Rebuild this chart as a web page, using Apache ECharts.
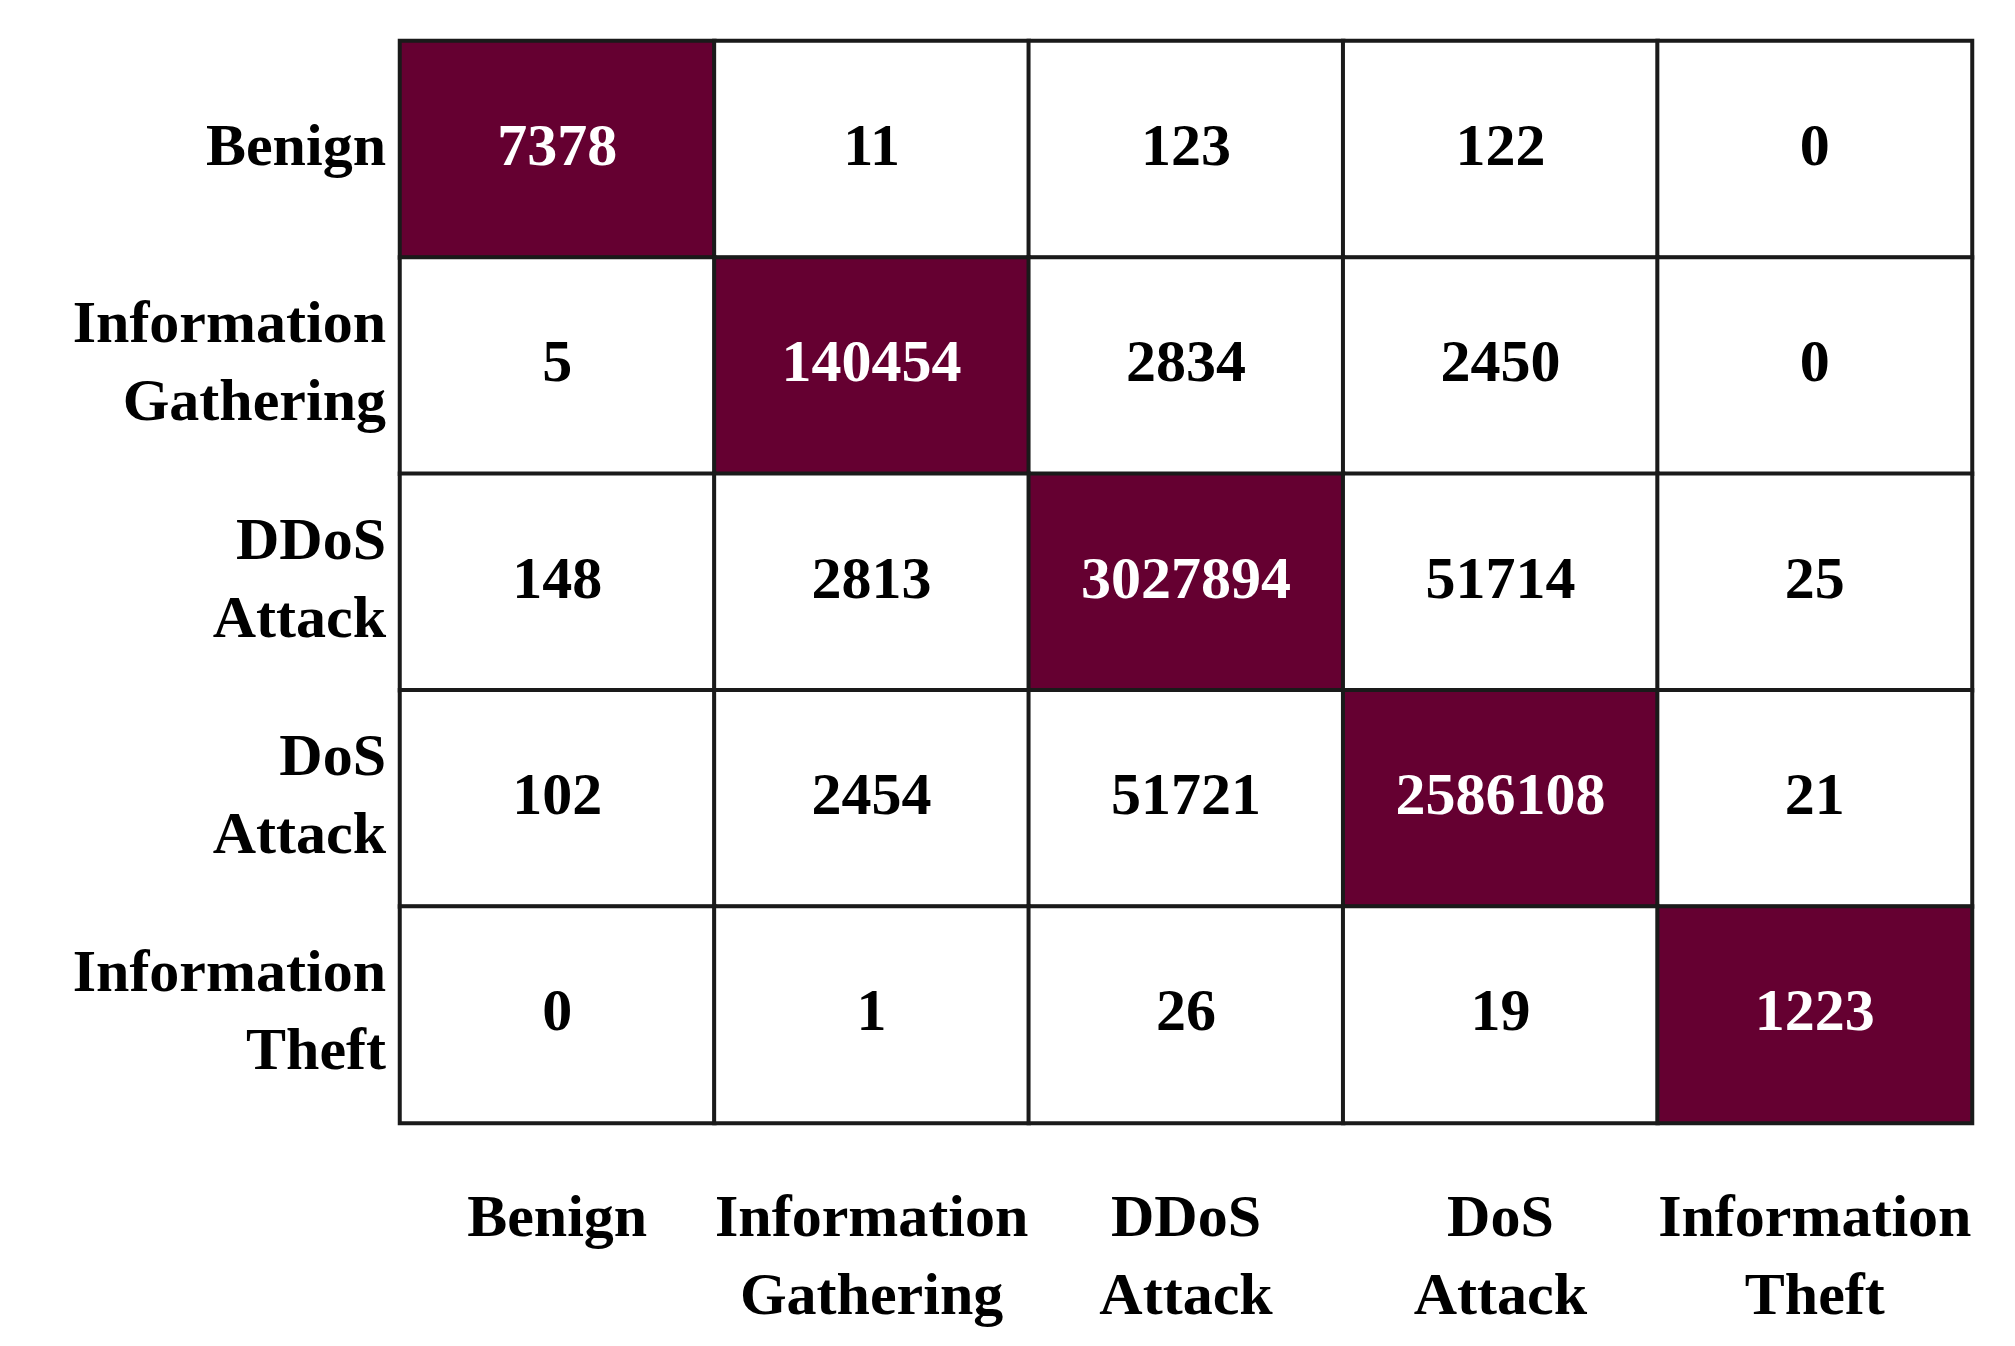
<!DOCTYPE html>
<html><head><meta charset="utf-8">
<script src="https://cdn.jsdelivr.net/npm/echarts@6/dist/echarts.min.js"></script>
<style>html,body{margin:0;padding:0;background:#fff}#c{width:2015px;height:1346px}</style>
</head><body><div id="c"></div>
<script>
const xLabels = ['Benign','Information\nGathering','DDoS\nAttack','DoS\nAttack','Information\nTheft'];
const yLabels = ['Benign','Information\nGathering','DDoS\nAttack','DoS\nAttack','Information\nTheft'];
const row0 = [7378, 11, 123, 122, 0];
const row1 = [5, 140454, 2834, 2450, 0];
const row2 = [148, 2813, 3027894, 51714, 25];
const row3 = [102, 2454, 51721, 2586108, 21];
const row4 = [0, 1, 26, 19, 1223];
const rows = [row0, row1, row2, row3, row4];
const data = [];
rows.forEach((r, i) => r.forEach((v, j) => {
  const diag = i === j;
  data.push({value: [j, i, v],
    itemStyle: {color: diag ? '#650031' : '#ffffff'},
    label: {color: diag ? '#ffffff' : '#000000'}});
}));
const font = {fontFamily: 'Liberation Serif', fontWeight: 'bold', fontSize: 60, color: '#000'};
const chart = echarts.init(document.getElementById('c'));
chart.setOption({
  animation: false,
  grid: {left: 400, right: 43, top: 41, bottom: 223},
  xAxis: {type: 'category', data: xLabels, axisLine: {show: false}, axisTick: {show: false},
    splitArea: {show: false}, axisLabel: Object.assign({margin: 58, lineHeight: 78, interval: 0, hideOverlap: false}, font)},
  yAxis: {type: 'category', data: yLabels, inverse: true, axisLine: {show: false}, axisTick: {show: false},
    axisLabel: Object.assign({margin: 14, lineHeight: 78, interval: 0, align: 'right'}, font)},
  series: [{type: 'heatmap', data: data,
    itemStyle: {borderColor: '#1a1a1a', borderWidth: 4},
    label: {show: true, fontFamily: 'Liberation Serif', fontWeight: 'bold', fontSize: 60,
      formatter: p => p.value[2]}}]
});
</script></body></html>
